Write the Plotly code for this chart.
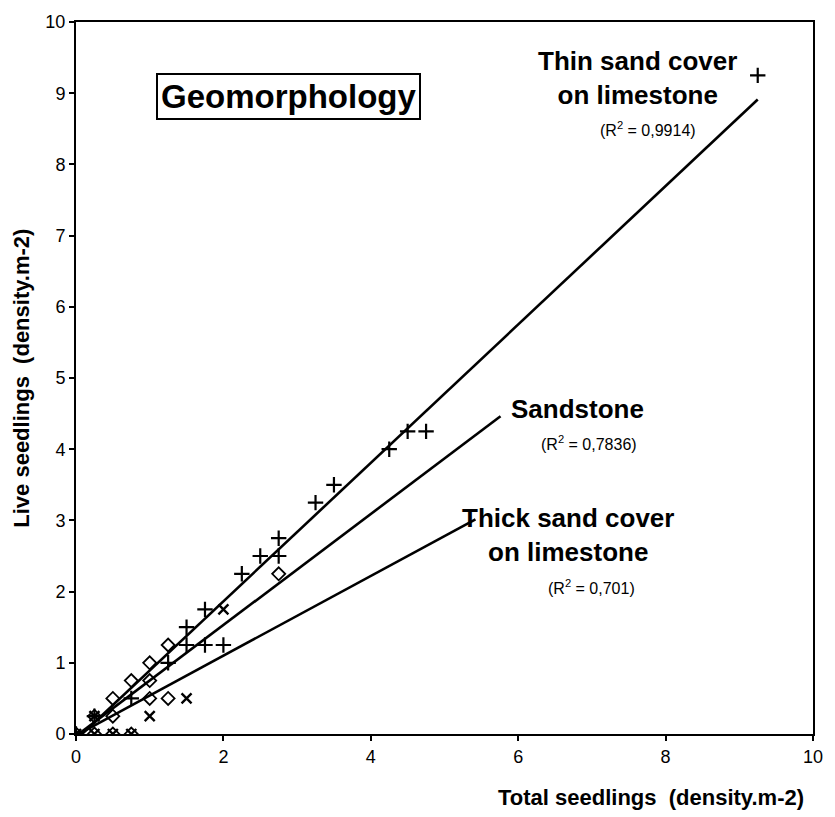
import plotly.graph_objects as go

# ---- data ----
thin_x = [0, 0.25, 0.75, 1.25, 1.5, 1.5, 1.75, 1.75, 2, 2.25, 2.5, 2.75, 2.75, 3.25, 3.5, 4.25, 4.5, 4.75, 9.25]
thin_y = [0, 0.25, 0.5, 1.0, 1.25, 1.5, 1.25, 1.75, 1.25, 2.25, 2.5, 2.5, 2.75, 3.25, 3.5, 4.0, 4.25, 4.25, 9.25]

sand_x = [0, 0.25, 0.5, 0.5, 0.75, 1, 1, 1, 1.25, 1.25, 2.75, 0.25, 0.5, 0.75]
sand_y = [0, 0.25, 0.5, 0.25, 0.75, 1.0, 0.75, 0.5, 1.25, 0.5, 2.25, 0, 0, 0]

thick_x = [0, 0.25, 0.5, 0.75, 0.25, 1, 1.5, 2]
thick_y = [0, 0, 0, 0, 0.25, 0.25, 0.5, 1.75]

# trend lines (slope, intercept, x range)
thin_fit = (0.972, -0.08, [0.08, 9.25])
sand_fit = (0.78, -0.03, [0.04, 5.76])
thick_fit = (0.56, -0.02, [0.04, 5.42])

labels = ["Thin sand cover<br>on limestone", "Sandstone", "Thick sand cover<br>on limestone"]
r2_labels = ["(R<sup>2</sup> = 0,9914)", "(R<sup>2</sup> = 0,7836)", "(R<sup>2</sup> = 0,701)"]

FONT = "Liberation Sans, Arial, sans-serif"

fig = go.Figure()

for (a, b, xr) in [thin_fit, sand_fit, thick_fit]:
    fig.add_trace(go.Scatter(x=xr, y=[a * v + b for v in xr], mode="lines",
                             line=dict(color="black", width=2.6), showlegend=False, hoverinfo="skip"))

fig.add_trace(go.Scatter(x=thick_x, y=thick_y, mode="markers", showlegend=False,
                         marker=dict(symbol="x-thin-open", size=10, color="black",
                                     line=dict(color="black", width=2.4))))
fig.add_trace(go.Scatter(x=sand_x, y=sand_y, mode="markers", showlegend=False,
                         marker=dict(symbol="diamond-open", size=10, color="black",
                                     line=dict(color="black", width=1.8))))
fig.add_trace(go.Scatter(x=thin_x, y=thin_y, mode="markers", showlegend=False,
                         marker=dict(symbol="cross-thin-open", size=11, color="black",
                                     line=dict(color="black", width=2.2))))

ann = []
# series labels
ann.append(dict(x=7.62, y=9.22, text="<b>" + labels[0] + "</b>", font=dict(size=26), align="center"))
ann.append(dict(x=7.76, y=8.50, text=r2_labels[0], font=dict(size=16)))
ann.append(dict(x=6.81, y=4.56, text="<b>" + labels[1] + "</b>", font=dict(size=26)))
ann.append(dict(x=6.96, y=4.09, text=r2_labels[1], font=dict(size=16)))
ann.append(dict(x=6.67, y=2.80, text="<b>" + labels[2] + "</b>", font=dict(size=26), align="center"))
ann.append(dict(x=7.0, y=2.06, text=r2_labels[2], font=dict(size=16)))
ann.append(dict(x=2.88, y=8.95, text="<b>Geomorphology</b>", font=dict(size=33),
                bordercolor="black", borderwidth=2, borderpad=3, bgcolor="white"))
for a_ in ann:
    a_.update(xref="x", yref="y", showarrow=False)
    a_["font"].update(family=FONT, color="black")

# axis titles
ann.append(dict(xref="paper", yref="paper", x=0.991, y=-0.089, xanchor="right", yanchor="middle",
                text="<b>Total seedlings  (density.m-2)</b>", showarrow=False,
                font=dict(family=FONT, size=22, color="black")))
ann.append(dict(xref="paper", yref="paper", x=-0.075, y=0.5, xanchor="center", yanchor="middle",
                text="<b>Live seedlings  (density.m-2)</b>", showarrow=False, textangle=-90,
                font=dict(family=FONT, size=22, color="black")))

axis_common = dict(range=[0, 10], dtick=2, ticks="outside", ticklen=5, tickwidth=2, tickcolor="black",
                   showline=True, linecolor="black", linewidth=2, mirror=True, showgrid=False,
                   zeroline=False, ticklabeloverflow="allow",
                   tickfont=dict(family=FONT, size=18, color="black"))

fig.update_layout(
    width=835, height=817,
    margin=dict(l=76, r=13, t=15, b=83),
    paper_bgcolor="white", plot_bgcolor="white",
    xaxis=dict(axis_common),
    yaxis=dict(axis_common, dtick=1),
    annotations=ann,
    showlegend=False,
)

# remove the browser's default 8px page margin so the figure fills the window exactly
fig.write_html("out.html", config={"displayModeBar": False},
               post_script="document.body.style.margin='0';")
